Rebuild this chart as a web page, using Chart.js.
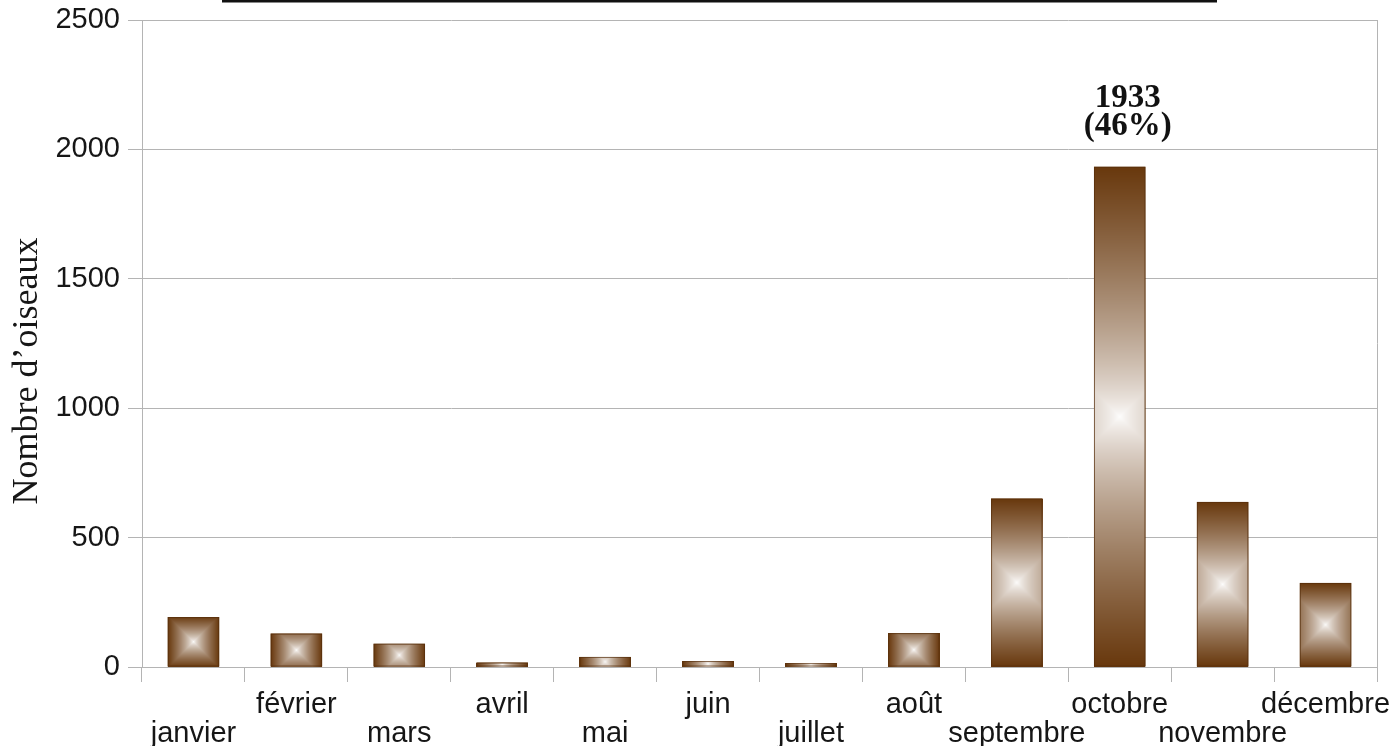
<!DOCTYPE html>
<html>
<head>
<meta charset="utf-8">
<script src="https://cdn.jsdelivr.net/npm/chart.js@4.4.1/dist/chart.umd.min.js"></script>
<style>
  html, body { margin: 0; padding: 0; background: #ffffff; overflow: hidden; }
  #wrap { width: 1393px; height: 746px; position: relative; }
</style>
</head>
<body>
<div id="wrap"><canvas id="c"></canvas></div>
<script>
// ---- data ----
const months = ['janvier', 'février', 'mars', 'avril', 'mai', 'juin', 'juillet', 'août', 'septembre', 'octobre', 'novembre', 'décembre'];
const birds = [193, 129, 90, 17, 39, 23, 15, 131, 651, 1933, 638, 325];
const yTickValues = [0, 500, 1000, 1500, 2000, 2500];
const yTitle = 'Nombre d’oiseaux';
const peakIndex = 9;

// ---- styles ----
const GRID = '#b4b4b4';
const TXT = '#161616';
const BROWN = [104, 56, 13];

const total = birds.reduce((a, b) => a + b, 0);
const peakLines = [String(birds[peakIndex]), '(' + Math.round(birds[peakIndex] / total * 100) + '%)'];

// alternate label rows: even index on the lower row
const xLabels = months.map((m, i) => (i % 2 === 0 ? ['', m] : [m]));

const squareGradient = {
  id: 'squareGradient',
  afterDatasetsDraw(chart) {
    const ctx = chart.ctx;
    const dpr = chart.currentDevicePixelRatio || 1;
    chart.getDatasetMeta(0).data.forEach(bar => {
      const p = bar.getProps(['x', 'y', 'base', 'width'], true);
      const x0 = p.x - p.width / 2, x1 = p.x + p.width / 2;
      const y0 = Math.min(p.y, p.base), y1 = Math.max(p.y, p.base);
      const w = x1 - x0, h = y1 - y0;
      if (w <= 0 || h <= 0) return;
      const pw = Math.max(1, Math.round(w * dpr)), ph = Math.max(1, Math.round(h * dpr));
      const off = document.createElement('canvas');
      off.width = pw; off.height = ph;
      const octx = off.getContext('2d');
      const img = octx.createImageData(pw, ph);
      const S = Math.max(pw, ph) / 2, cx = pw / 2, cy = ph / 2;
      for (let j = 0; j < ph; j++) {
        for (let i = 0; i < pw; i++) {
          let d = Math.min(1, Math.max(Math.abs(i + 0.5 - cx), Math.abs(j + 0.5 - cy)) / S);
          d = Math.pow(d, 0.72);
          const k = (j * pw + i) * 4;
          img.data[k] = 255 + (BROWN[0] - 255) * d;
          img.data[k + 1] = 255 + (BROWN[1] - 255) * d;
          img.data[k + 2] = 255 + (BROWN[2] - 255) * d;
          img.data[k + 3] = 255;
        }
      }
      octx.putImageData(img, 0, 0);
      ctx.save();
      ctx.drawImage(off, x0, y0, w, h);
      ctx.strokeStyle = 'rgba(85,46,12,0.7)';
      ctx.lineWidth = 1;
      ctx.strokeRect(x0 + 0.5, y0 + 0.5, w - 1, Math.max(0, h - 1));
      ctx.restore();
    });

    // peak label
    const pb = chart.getDatasetMeta(0).data[peakIndex];
    ctx.save();
    ctx.fillStyle = '#111111';
    ctx.font = 'bold 33px "Liberation Serif", "Times New Roman", serif';
    ctx.textAlign = 'center';
    ctx.textBaseline = 'alphabetic';
    ctx.fillText(peakLines[0], pb.x + 8, pb.y - 60);
    ctx.fillText(peakLines[1], pb.x + 8, pb.y - 32);
    ctx.restore();
  },
  afterDraw(chart) {
    const ctx = chart.ctx;
    ctx.save();
    // rotated y axis title
    ctx.fillStyle = TXT;
    ctx.font = '36px "Liberation Serif", "Times New Roman", serif';
    ctx.textAlign = 'center';
    ctx.textBaseline = 'alphabetic';
    ctx.translate(37, 371);
    ctx.rotate(-Math.PI / 2);
    ctx.fillText(yTitle, 0, 0);
    ctx.restore();
    // underline of the cropped title at the top
    ctx.save();
    ctx.fillStyle = '#111111';
    ctx.fillRect(222, 0, 995, 2.5);
    ctx.restore();
  }
};

new Chart(document.getElementById('c'), {
  type: 'bar',
  data: {
    labels: xLabels,
    datasets: [{
      data: birds,
      backgroundColor: 'rgb(104,56,13)',
      borderWidth: 0,
      barPercentage: 0.5,
      categoryPercentage: 1.0
    }]
  },
  options: {
    responsive: true,
    maintainAspectRatio: false,
    animation: false,
    layout: { padding: { top: 20, right: 16, left: 0, bottom: 0 } },
    plugins: { legend: { display: false }, tooltip: { enabled: false }, title: { display: false } },
    scales: {
      x: {
        offset: true,
        grid: {
          offset: true,
          drawOnChartArea: true,
          color: c => (c.type === 'scale' ? GRID : 'rgba(0,0,0,0)'),
          tickColor: GRID,
          tickLength: 15,
          lineWidth: 1
        },
        border: { display: true, color: GRID },
        ticks: {
          autoSkip: false,
          maxRotation: 0,
          minRotation: 0,
          padding: 8,
          color: TXT,
          font: { family: '"Liberation Sans", Arial, sans-serif', size: 29, lineHeight: 1.0 }
        },
        afterFit: s => { s.height = 79; s.paddingLeft = 0; s.paddingRight = 0; }
      },
      y: {
        min: 0,
        max: 2500,
        afterBuildTicks: s => { s.ticks = yTickValues.map(v => ({ value: v })); },
        ticks: {
          padding: 8,
          color: TXT,
          callback: v => String(v),
          font: { family: '"Liberation Sans", Arial, sans-serif', size: 29 }
        },
        grid: { color: GRID, tickColor: GRID, tickLength: 14, lineWidth: 1 },
        border: { display: true, color: GRID },
        afterFit: s => { s.width = 142; s.paddingTop = 0; s.paddingBottom = 0; }
      }
    }
  },
  plugins: [squareGradient]
});
</script>
</body>
</html>
